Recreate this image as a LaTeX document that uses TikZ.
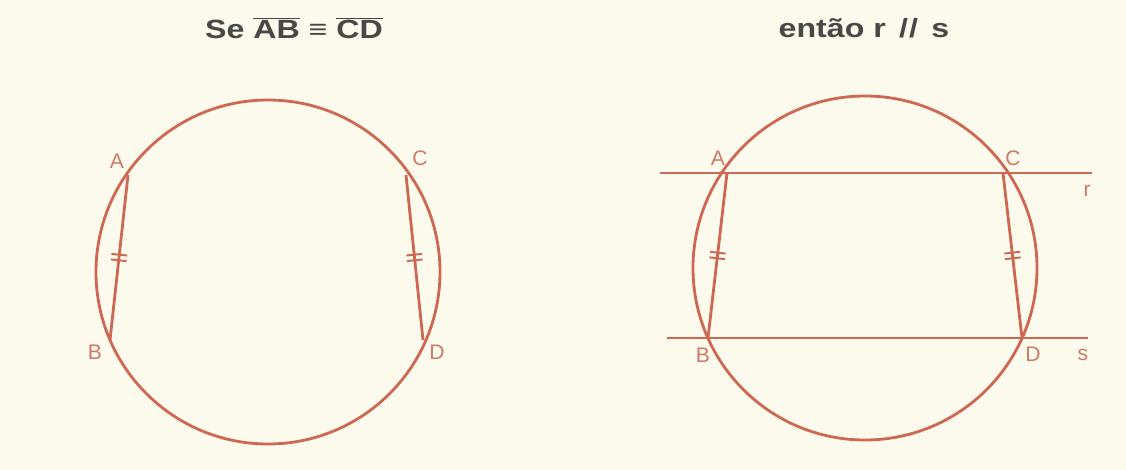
\documentclass[tikz,border=0pt]{standalone}
\usepackage{fontspec}
\setmainfont{Liberation Sans}
\newfontfamily\largafont[FakeStretch=1.22]{Liberation Sans}
\usetikzlibrary{decorations.markings}

\definecolor{fundo}{RGB}{252,250,236}
\definecolor{traco}{RGB}{204,104,84}
\definecolor{rotulo}{RGB}{206,122,104}
\definecolor{titulo}{RGB}{72,72,72}

\tikzset{
  linha/.style={traco, line width=1.6pt},
  rot/.style={rotulo, font=\fontsize{12}{12}\selectfont},
  cabec/.style={titulo, font=\largafont\fontsize{15}{15}\selectfont\bfseries},
  iguais/.style={postaction={decorate}, decoration={markings,
      mark=at position 0.5 with {
        \draw[traco, line width=1.1pt] (-1.6pt,-4.5pt) -- (-1.6pt,4.5pt);
        \draw[traco, line width=1.1pt] (1.6pt,-4.5pt) -- (1.6pt,4.5pt);}}}
}

\begin{document}
\begin{tikzpicture}[x=0.02cm, y=-0.02cm]
        % Fundo
        \fill[fundo] (0,0) rectangle (1126,470);
        \useasboundingbox (0,0) rectangle (1126,470);

        % Titulos
        \node[cabec] (se) at (294,28) {Se $\overline{\mbox{AB}}$ ≡ $\overline{\mbox{CD}}$};
        \node[cabec] (entao) at (864,28) {então r \,/\kern0.04em/\, s};

        % Primeira figura
        \coordinate (O1) at (268,272);
        \draw[linha] (O1) circle (172);
        \coordinate (A1) at (128,175);
        \coordinate (B1) at (110,340);
        \coordinate (C1) at (406,175);
        \coordinate (D1) at (423,340);
        \draw[linha, iguais] (A1) -- (B1);
        \draw[linha, iguais] (C1) -- (D1);
        \node[rot] (lA1) at (117,161) {A};
        \node[rot] (lB1) at (95,352) {B};
        \node[rot] (lC1) at (420,158) {C};
        \node[rot] (lD1) at (437,352) {D};

        % Segunda figura
        \coordinate (O2) at (865,268);
        \draw[linha] (O2) circle (172);
        \coordinate (A2) at (727,173);
        \coordinate (B2) at (708,338);
        \coordinate (C2) at (1003,173);
        \coordinate (D2) at (1022,338);
        % Retas r e s
        \coordinate (r1) at (660,173);
        \coordinate (r2) at (1092,173);
        \coordinate (s1) at (667,338);
        \coordinate (s2) at (1088,338);
        \draw[linha] (r1) -- (r2);
        \draw[linha] (s1) -- (s2);
        \draw[linha, iguais] (A2) -- (B2);
        \draw[linha, iguais] (C2) -- (D2);
        \node[rot] (lA2) at (718,158) {A};
        \node[rot] (lB2) at (703,355) {B};
        \node[rot] (lC2) at (1013,158) {C};
        \node[rot] (lD2) at (1033,354) {D};
        \node[rot] (lr) at (1087,191) {r};
        \node[rot] (ls) at (1083,355) {s};
\end{tikzpicture}
\end{document}
